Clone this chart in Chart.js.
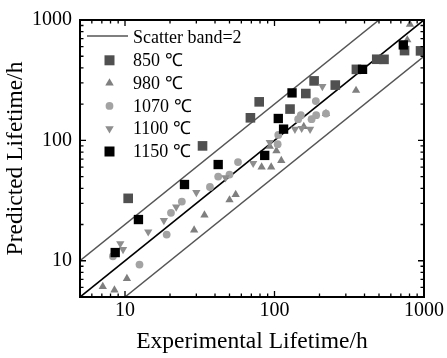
<!DOCTYPE html>
<html><head><meta charset="utf-8">
<script src="https://cdn.jsdelivr.net/npm/chart.js@4/dist/chart.umd.min.js"></script>
<style>html,body{margin:0;padding:0;background:#fff}</style>
</head><body>
<canvas id="c" width="447" height="358"></canvas>
<script>
// ---- data ----
const seriesNames = ['850 \u2103', '980 \u2103', '1070 \u2103', '1100 \u2103', '1150 \u2103'];
const bandLabel = 'Scatter band=2';
const bandFactor = 2;
const axisRange = [5, 1000];
const tickValues = [10, 100, 1000];
const tickLabels = ['10', '100', '1000'];

const exp850  = [10.5, 33, 69, 79, 127, 162, 184, 255, 353, 483, 540, 741, 948];
const pred850 = [33, 90, 154, 209, 182, 245, 312, 288, 389, 472, 471, 557, 554];

const exp980  = [7.1, 8.5, 10.3, 29, 34, 50, 55, 82, 95, 111, 103, 93, 157, 221, 351, 806, 773];
const pred980 = [6.1, 5.7, 7.1, 18, 24, 32, 35.5, 60, 60, 68, 82, 89, 130, 167, 260, 920, 683];

const exp1070  = [8.3, 12.5, 19, 20.3, 24, 37, 42, 50, 57, 105, 106, 144, 150, 177, 190, 189, 221];
const pred1070 = [10.9, 9.3, 16.5, 25, 31, 41, 50, 52, 66, 93, 111, 150, 162, 150, 162, 212, 167];

const exp1100  = [9.3, 9.7, 14.3, 18.2, 22, 30, 47, 72, 93, 137, 152, 173, 209];
const pred1100 = [13.9, 12.4, 17.4, 21.6, 28, 37, 49, 64.5, 96, 124, 126, 124, 281];

const exp1150  = [8.6, 12.3, 25, 42, 86, 106, 115, 131, 388, 727];
const pred1150 = [11.7, 22, 43, 63, 75, 152, 124, 248, 389, 621];

// ---- styles ----
const colors = ['#505050', '#7f7f7f', '#a3a3a3', '#8e8e8e', '#000000'];
const styles = ['rect', 'triangle', 'circle', 'triangle', 'rect'];
const rotations = [0, 0, 0, 180, 0];
const radii = [6.8, 4.8, 3.9, 4.8, 6.6];
const FONT = "'Liberation Serif', 'Times New Roman', serif";

const pairs = (xs, ys) => xs.map((v, i) => ({x: v, y: ys[i]}));
const seriesData = [
  pairs(exp850, pred850), pairs(exp980, pred980), pairs(exp1070, pred1070),
  pairs(exp1100, pred1100), pairs(exp1150, pred1150)
];

const [lo, hi] = axisRange;
const datasets = [
  {type: 'line', data: [{x: lo, y: lo}, {x: hi, y: hi}], borderColor: '#000', borderWidth: 1.7, pointRadius: 0, order: 20},
  {type: 'line', data: [{x: lo, y: lo * bandFactor}, {x: hi / bandFactor, y: hi}], borderColor: '#555', borderWidth: 1.5, pointRadius: 0, order: 21},
  {type: 'line', data: [{x: lo * bandFactor, y: lo}, {x: hi, y: hi / bandFactor}], borderColor: '#555', borderWidth: 1.5, pointRadius: 0, order: 22}
];
seriesData.forEach((d, i) => {
  datasets.push({
    label: seriesNames[i], data: d,
    pointStyle: styles[i], rotation: rotations[i], pointRadius: radii[i],
    backgroundColor: colors[i], borderColor: colors[i], borderWidth: 0,
    pointBorderWidth: 0, order: 10 - i, showLine: false
  });
});

function drawMarker(ctx, style, rot, x, y, s, color) {
  ctx.fillStyle = color;
  ctx.beginPath();
  if (style === 'rect') {
    ctx.rect(x - s / 2, y - s / 2, s, s);
  } else if (style === 'circle') {
    ctx.arc(x, y, s / 2, 0, Math.PI * 2);
  } else {
    const r = s / Math.sqrt(3);
    let a = rot * Math.PI / 180;
    ctx.moveTo(x + Math.sin(a) * r, y - Math.cos(a) * r);
    a += 2 * Math.PI / 3;
    ctx.lineTo(x + Math.sin(a) * r, y - Math.cos(a) * r);
    a += 2 * Math.PI / 3;
    ctx.lineTo(x + Math.sin(a) * r, y - Math.cos(a) * r);
    ctx.closePath();
  }
  ctx.fill();
}

const framePlugin = {
  id: 'frame',
  afterDraw(chart) {
    const {ctx, chartArea: a, scales: {x, y}} = chart;
    ctx.save();
    // inward ticks on all four sides
    const vals = [];
    for (let d = 1; d <= 1000; d *= 10) for (let m = 1; m <= 9; m++) {
      const v = m * d; if (v >= lo && v <= hi) vals.push(v);
    }
    ctx.strokeStyle = '#000';
    ctx.lineWidth = 1.3;
    ctx.beginPath();
    vals.forEach(v => {
      const L = tickValues.includes(v) ? 6 : 3.5;
      const px = x.getPixelForValue(v);
      ctx.moveTo(px, a.bottom); ctx.lineTo(px, a.bottom - L);
      ctx.moveTo(px, a.top); ctx.lineTo(px, a.top + L);
      const py = y.getPixelForValue(v);
      ctx.moveTo(a.left, py); ctx.lineTo(a.left + L, py);
      ctx.moveTo(a.right, py); ctx.lineTo(a.right - L, py);
    });
    ctx.stroke();
    ctx.lineWidth = 2;
    ctx.strokeRect(a.left, a.top, a.right - a.left, a.bottom - a.top);

    // legend
    const rowY = i => a.top + 18.5 + i * 22.8;
    ctx.font = '18px ' + FONT;
    ctx.textBaseline = 'middle';
    ctx.textAlign = 'left';
    ctx.fillStyle = '#000';
    ctx.strokeStyle = '#555';
    ctx.lineWidth = 1.5;
    ctx.beginPath();
    ctx.moveTo(a.left + 7, rowY(0) - 2.5);
    ctx.lineTo(a.left + 48, rowY(0) - 2.5);
    ctx.stroke();
    ctx.fillText(bandLabel, a.left + 53, rowY(0));
    const lsizes = [10, 8.5, 7.8, 8.5, 10];
    seriesNames.forEach((n, i) => {
      drawMarker(ctx, styles[i], rotations[i], a.left + 29.5, rowY(i + 1) - 1, lsizes[i], colors[i]);
      ctx.fillStyle = '#000';
      ctx.fillText(n, a.left + 53, rowY(i + 1));
    });
    ctx.restore();
  }
};

const tickCfg = {
  callback: v => { const k = tickValues.indexOf(v); return k >= 0 ? tickLabels[k] : ''; },
  font: {family: FONT, size: 20}, color: '#000', autoSkip: false, maxRotation: 0
};

new Chart(document.getElementById('c'), {
  type: 'scatter',
  data: {datasets},
  plugins: [framePlugin],
  options: {
    responsive: false, animation: false,
    layout: {padding: {top: 19, right: 23, left: 0, bottom: 0}},
    plugins: {legend: {display: false}, tooltip: {enabled: false}},
    scales: {
      x: {
        type: 'logarithmic', min: lo, max: hi,
        afterBuildTicks: s => { s.ticks = tickValues.map(v => ({value: v})); },
        ticks: Object.assign({}, tickCfg, {padding: 2}),
        grid: {display: false, drawTicks: false}, border: {display: false},
        title: {display: true, text: 'Experimental Lifetime/h', font: {family: FONT, size: 23.5}, color: '#000', padding: {top: 0, bottom: 2}},
        afterFit: s => { s.height = 61; }
      },
      y: {
        type: 'logarithmic', min: lo, max: hi,
        afterBuildTicks: s => { s.ticks = tickValues.map(v => ({value: v})); },
        ticks: Object.assign({}, tickCfg, {padding: 8}),
        grid: {display: false, drawTicks: false}, border: {display: false},
        title: {display: true, text: 'Predicted Lifetime/h', font: {family: FONT, size: 23.5}, color: '#000', padding: {top: 2, bottom: 0}},
        afterFit: s => { s.width = 80; }
      }
    }
  }
});
</script>
</body></html>
